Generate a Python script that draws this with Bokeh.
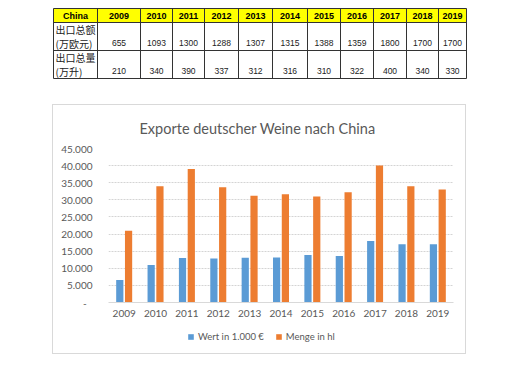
from bokeh.plotting import figure
from bokeh.models import (FactorRange, Range1d, FixedTicker, CustomJSTickFormatter,
                          Legend, LegendItem, Spacer, ColumnDataSource)
from bokeh.layouts import column, row
from bokeh.transform import dodge
from bokeh.core.properties import value
from bokeh.embed import file_html
from bokeh.resources import INLINE

# ---------------- data ----------------
years = ["2009", "2010", "2011", "2012", "2013", "2014", "2015", "2016", "2017", "2018", "2019"]
table_corner = "China"
row1_label = ["出口总额", "(万欧元)"]
row2_label = ["出口总量", "(万升)"]
export_value_10k_eur = [655, 1093, 1300, 1288, 1307, 1315, 1388, 1359, 1800, 1700, 1700]
export_volume_10k_l = [210, 340, 390, 337, 312, 316, 310, 322, 400, 340, 330]

chart_title = "Exporte deutscher  Weine nach China"
series_names = ["Wert in 1.000 €", "Menge in hl"]
series_colors = ["#5B9BD5", "#ED7D31"]
wert_1000_eur = [6550, 10930, 13000, 12880, 13070, 13150, 13880, 13590, 18000, 17000, 17000]
menge_hl = [21000, 34000, 39000, 33700, 31200, 31600, 31000, 32200, 40000, 34000, 33000]
y_ticks = [0, 5000, 10000, 15000, 20000, 25000, 30000, 35000, 40000, 45000]

# ---------------- table (drawn as a figure) ----------------
W = 520
TH = 105
col_edges = [53, 97, 140, 172, 204, 238, 272, 307, 340, 373, 406, 438, 466]
row_edges = [8, 22, 50, 78]
t = figure(width=W, height=TH, x_range=Range1d(0, W), y_range=Range1d(TH, 0),
           min_border=0, toolbar_location=None, output_backend="svg")
t.axis.visible = False
t.grid.visible = False
t.outline_line_color = None

t.quad(left=col_edges[:-1], right=col_edges[1:], top=row_edges[0], bottom=row_edges[1],
       fill_color="#FFFF00", line_color=None)
t.segment(x0=[col_edges[0]] * len(row_edges), x1=[col_edges[-1]] * len(row_edges),
          y0=row_edges, y1=row_edges, line_color="#333333", line_width=1)
t.segment(x0=col_edges, x1=col_edges, y0=[row_edges[0]] * len(col_edges),
          y1=[row_edges[-1]] * len(col_edges), line_color="#333333", line_width=1)

centers = [(a + b) / 2 for a, b in zip(col_edges[:-1], col_edges[1:])]
hy = (row_edges[0] + row_edges[1]) / 2
t.text(x=centers, y=[hy] * len(centers), text=[table_corner] + years,
       text_font=value("Liberation Sans"), text_font_style="bold", text_font_size="9px",
       text_align="center", text_baseline="middle", text_color="#000000")
lab_x = col_edges[0] + 2
t.text(x=[lab_x] * 4, y=[29, 42.5, 57, 70.5], text=row1_label + row2_label,
       text_font=value("Noto Sans CJK SC"), text_font_size="10px",
       text_align="left", text_baseline="middle", text_color="#222222")
t.text(x=centers[1:], y=[42.5] * len(years), text=[str(v) for v in export_value_10k_eur],
       text_font=value("Liberation Sans"), text_font_size="8.5px",
       text_align="center", text_baseline="middle", text_color="#222222")
t.text(x=centers[1:], y=[70.5] * len(years), text=[str(v) for v in export_volume_10k_l],
       text_font=value("Liberation Sans"), text_font_size="8.5px",
       text_align="center", text_baseline="middle", text_color="#222222")

# ---------------- chart ----------------
src = ColumnDataSource(dict(year=years, wert=wert_1000_eur, menge=menge_hl))
p = figure(width=412, height=220, x_range=FactorRange(factors=years, range_padding=0),
           y_range=Range1d(0, 45000), toolbar_location=None, output_backend="svg",
           min_border_left=55, min_border_right=12, min_border_top=43, min_border_bottom=23)
p.outline_line_color = None

r1 = p.vbar(x=dodge("year", -0.14, range=p.x_range), top="wert", width=0.23,
            source=src, fill_color=series_colors[0], line_color=None)
r2 = p.vbar(x=dodge("year", 0.14, range=p.x_range), top="menge", width=0.23,
            source=src, fill_color=series_colors[1], line_color=None)

p.title.text = chart_title
p.title.align = "left"
p.title.offset = 31
p.title.text_font = "Lato"
p.title.text_font_style = "normal"
p.title.text_font_size = "14.5px"
p.title.text_color = "#595959"
p.title.standoff = 24

p.xgrid.visible = False
p.ygrid.grid_line_color = "#D4D4D4"
p.ygrid.grid_line_dash = "2 1"
p.ygrid.ticker = FixedTicker(ticks=y_ticks)

p.yaxis.ticker = FixedTicker(ticks=y_ticks)
p.yaxis.formatter = CustomJSTickFormatter(code="""
  if (tick == 0) { return '-\\u2007'; }
  return String(Math.round(tick)).replace(/\\B(?=(\\d{3})+(?!\\d))/g, '.');
""")
p.yaxis.axis_line_color = None
p.yaxis.major_tick_line_color = None
p.yaxis.minor_tick_line_color = None
p.yaxis.major_tick_out = 0
p.yaxis.major_tick_in = 0
p.yaxis.major_label_standoff = 16
p.yaxis.major_label_text_font = "Lato"
p.yaxis.major_label_text_font_size = "10px"
p.yaxis.major_label_text_color = "#595959"

p.xaxis.axis_line_color = "#D9D9D9"
p.xaxis.major_tick_line_color = None
p.xaxis.minor_tick_line_color = None
p.xaxis.major_tick_out = 0
p.xaxis.major_tick_in = 0
p.xaxis.major_label_standoff = 7
p.xaxis.major_label_text_font = "Lato"
p.xaxis.major_label_text_font_size = "10px"
p.xaxis.major_label_text_color = "#595959"

# ---------------- legend strip under the chart ----------------
lf = figure(width=412, height=28, x_range=Range1d(0, 412), y_range=Range1d(0, 28),
            min_border=0, toolbar_location=None, output_backend="svg")
lf.axis.visible = False
lf.grid.visible = False
lf.outline_line_color = None
# zero-size proxies: they only supply the legend swatches
proxy = ColumnDataSource(dict(x=[0], top=[0]))
lr1 = lf.vbar(x="x", top="top", width=0, source=proxy, fill_color=series_colors[0], line_color=None)
lr2 = lf.vbar(x="x", top="top", width=0, source=proxy, fill_color=series_colors[1], line_color=None)
legend = Legend(items=[LegendItem(label=series_names[0], renderers=[lr1]),
                       LegendItem(label=series_names[1], renderers=[lr2])],
                orientation="horizontal", location=(79, 11),
                glyph_width=7, glyph_height=7, label_standoff=4, spacing=11,
                padding=0, margin=0, label_height=10,
                label_text_font="Lato", label_text_font_size="9.5px",
                label_text_color="#595959", border_line_color=None,
                background_fill_alpha=0)
lf.add_layout(legend, "center")

chart_box = column(p, lf, styles={"outline": "1px solid #D9D9D9"})
layout = column(t, row(Spacer(width=53), chart_box))
open("out.html", "w").write(file_html(layout, INLINE))
